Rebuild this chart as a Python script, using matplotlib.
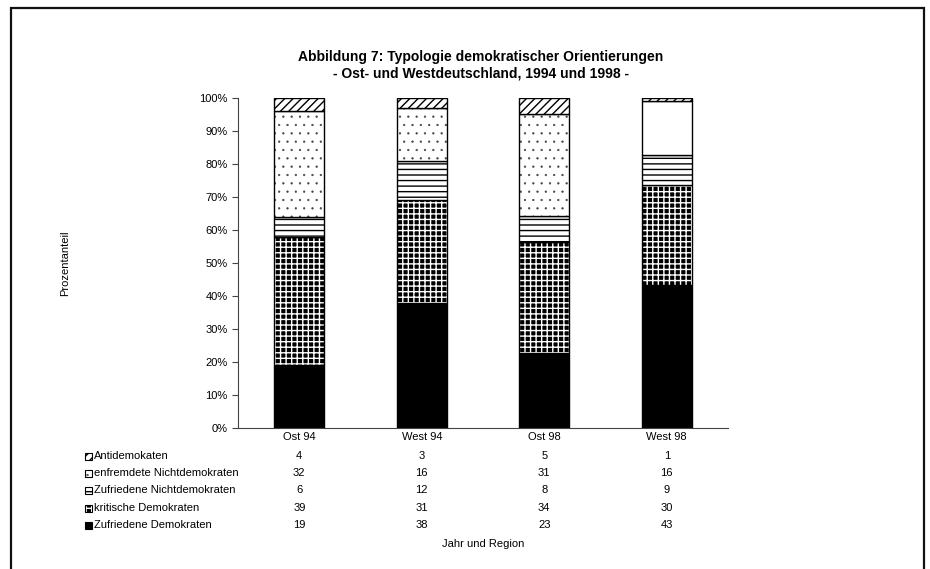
import numpy as np
import matplotlib
matplotlib.use("Agg")
import matplotlib.pyplot as plt
from matplotlib.patches import Rectangle

plt.rcParams['font.family'] = ['Liberation Sans', 'DejaVu Sans']

regionen = ["Ost 94", "West 94", "Ost 98", "West 98"]
typen = ["Zufriedene Demokraten", "kritische Demokraten",
         "Zufriedene Nichtdemokraten", "enfremdete Nichtdemokraten",
         "Antidemokaten"]
zufriedene_dem = [19, 38, 23, 43]
kritische_dem = [39, 31, 34, 30]
zufriedene_nd = [6, 12, 8, 9]
entfremdete_nd = [32, 16, 31, 16]
antidem = [4, 3, 5, 1]

werte = np.array([zufriedene_dem, kritische_dem, zufriedene_nd,
                  entfremdete_nd, antidem], dtype=float)
anteile = werte / werte.sum(axis=0) * 100

# face colour, hatch colour, hatch, hatch line width (bottom to top)
stile = [
    ("black", "black", None, 1.0),
    ("black", "white", "+++", 1.0),
    ("white", "black", "---", 1.0),
    ("white", "#444444", "..", 0.4),
    ("white", "black", "////", 1.0),
]

fig = plt.figure(figsize=(9.3, 5.69), dpi=100)
ax = fig.add_axes([238 / 930, 1 - 428 / 569, 490 / 930, 330 / 569])

x = np.arange(len(regionen))
breite = 0.41
unten = np.zeros(len(regionen))
for i, (face, hcol, hatch, hlw) in enumerate(stile):
    for j in range(len(regionen)):
        h = hatch
        # the West 98 segment of the alienated group is printed blank
        if i == 3 and j == 3:
            h = None
        with plt.rc_context({"hatch.linewidth": hlw}):
            ax.bar(x[j], anteile[i, j], breite, bottom=unten[j], color=face,
                   edgecolor=hcol, hatch=h, linewidth=0)
        ax.bar(x[j], anteile[i, j], breite, bottom=unten[j], fill=False,
               edgecolor="black", linewidth=1.0)
    unten += anteile[i]

ax.set_xlim(-0.5, 3.5)
ax.set_ylim(0, 100)
ax.set_yticks(np.arange(0, 101, 10))
ax.set_yticklabels([f"{v}%" for v in range(0, 101, 10)], fontsize=8)
ax.set_xticks(x)
ax.set_xticklabels(regionen, fontsize=8)
ax.tick_params(axis="x", length=0, pad=3)
ax.tick_params(axis="y", length=4, width=0.8, color="#444444")
for s in ["top", "right"]:
    ax.spines[s].set_visible(False)
ax.spines["left"].set_color("#444444")
ax.spines["bottom"].set_color("#444444")

fig.text(481 / 930, 1 - 57 / 569, "Abbildung 7: Typologie demokratischer Orientierungen",
         ha="center", va="center", fontsize=10, fontweight="bold")
fig.text(481 / 930, 1 - 73 / 569, "- Ost- und Westdeutschland, 1994 und 1998 -",
         ha="center", va="center", fontsize=10, fontweight="bold")
fig.text(65 / 930, 1 - 263 / 569, "Prozentanteil", rotation=90,
         ha="center", va="center", fontsize=8)

# data table below the chart, top row is the top segment
zeilen_y = [456, 473, 490, 508, 525]
tabelle = list(reversed(range(len(typen))))
for k, i in enumerate(tabelle):
    yf = 1 - zeilen_y[k] / 569
    face, hcol, hatch, hlw = stile[i]
    with plt.rc_context({"hatch.linewidth": hlw}):
        key = Rectangle((85 / 930, yf - 3.5 / 569), 7 / 930, 7 / 569,
                        transform=fig.transFigure, facecolor=face,
                        edgecolor=hcol, hatch=hatch, linewidth=0)
    fig.add_artist(key)
    fig.add_artist(Rectangle((85 / 930, yf - 3.5 / 569), 7 / 930, 7 / 569,
                             transform=fig.transFigure, fill=False,
                             edgecolor="black", linewidth=0.8))
    fig.text(94 / 930, yf, typen[i], ha="left", va="center", fontsize=8)
    for j in range(len(regionen)):
        xf = fig.transFigure.inverted().transform(
            ax.transData.transform((x[j], 0)))[0]
        fig.text(xf, yf, f"{int(werte[i, j])}", ha="center", va="center",
                 fontsize=8)

fig.text(483 / 930, 1 - 544 / 569, "Jahr und Region", ha="center",
         va="center", fontsize=8)

# frame around the figure
fig.add_artist(Rectangle((11 / 930, -0.05), 913 / 930, 1.05 - 8 / 569,
                         transform=fig.transFigure, fill=False,
                         edgecolor="#111111", linewidth=1.6))

fig.savefig("out.png", dpi=100)
